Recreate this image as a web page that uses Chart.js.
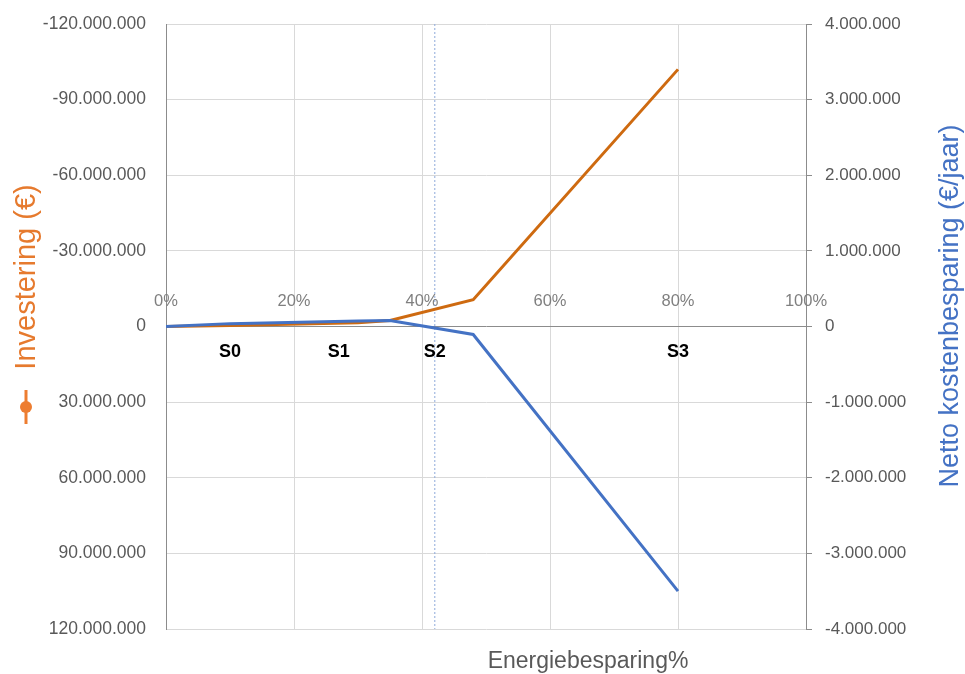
<!DOCTYPE html>
<html>
<head>
<meta charset="utf-8">
<script src="https://cdn.jsdelivr.net/npm/chart.js@4/dist/chart.umd.min.js"></script>
<style>
  html, body { margin: 0; padding: 0; background: #ffffff; }
  #wrap { width: 965px; height: 674px; position: relative; }
</style>
</head>
<body>
<div id="wrap"><canvas id="chart"></canvas></div>
<script>
// Energy saving percentage for each calculated point
const energiePct = [0, 10, 30, 35, 48, 80];
// Investment (€), plotted on the reversed left axis
const investering = [0, -400000, -1500000, -2400000, -10600000, -102000000];
// Net cost saving per year (€/jaar), right axis
const nettoBesparing = [0, 38000, 73000, 80000, -105000, -3500000];

// Scenario labels and their energy-saving position
const scenarioNames = ['S0', 'S1', 'S2', 'S3'];
const scenarioPct = [10, 27, 42, 80];
// Reference marker line at scenario S2
const markerPct = 42;

// Axis ranges
const invRange = [-120000000, 120000000];
const besRange = [-4000000, 4000000];
const pctRange = [0, 100];

const FONT = '"Liberation Sans", Arial, sans-serif';
const ORANGE_LINE = '#CE6A10';
const ORANGE_TEXT = '#E67A2E';
const BLUE = '#4472C4';
const AXIS_GREY = '#8c8c8c';
const GRID = '#d9d9d9';
const LABEL = '#595959';

function nlNumber(v) {
  const s = Math.round(Math.abs(v)).toString().replace(/\B(?=(\d{3})+(?!\d))/g, '.');
  return (v < 0 ? '-' : '') + s;
}

const toPoints = (xs, ys) => xs.map((x, i) => ({ x: x, y: ys[i] }));

const annotations = {
  id: 'annotations',
  beforeDatasetsDraw(chart) {
    const ctx = chart.ctx;
    const xs = chart.scales.x;
    const yl = chart.scales.y;
    const zeroY = yl.getPixelForValue(0);
    ctx.save();
    // percentage labels sitting just above the zero line
    ctx.font = '16.5px ' + FONT;
    ctx.fillStyle = '#7f7f7f';
    ctx.textAlign = 'center';
    ctx.textBaseline = 'middle';
    xs.ticks.forEach(t => {
      ctx.fillText(t.value + '%', xs.getPixelForValue(t.value), zeroY - 25);
    });
    ctx.restore();
  },
  afterDraw(chart) {
    const ctx = chart.ctx;
    const xs = chart.scales.x;
    const yl = chart.scales.y;
    ctx.save();
    // scenario names below the zero line
    ctx.font = 'bold 18px ' + FONT;
    ctx.fillStyle = '#000000';
    ctx.textAlign = 'center';
    ctx.textBaseline = 'middle';
    scenarioNames.forEach((name, i) => {
      ctx.fillText(name, xs.getPixelForValue(scenarioPct[i]), yl.getPixelForValue(10000000));
    });

    // x axis title
    ctx.font = '23px ' + FONT;
    ctx.fillStyle = LABEL;
    ctx.fillText('Energiebesparing%', 588, 662);

    // left axis title with series key
    ctx.save();
    ctx.translate(27, 277);
    ctx.rotate(-Math.PI / 2);
    ctx.font = '29px ' + FONT;
    ctx.fillStyle = ORANGE_TEXT;
    ctx.fillText('Investering (€)', 0, 0);
    ctx.restore();
    ctx.strokeStyle = '#ED7D31';
    ctx.lineWidth = 3;
    ctx.beginPath();
    ctx.moveTo(26, 390);
    ctx.lineTo(26, 424);
    ctx.stroke();
    ctx.fillStyle = '#ED7D31';
    ctx.beginPath();
    ctx.arc(26, 407, 6, 0, Math.PI * 2);
    ctx.fill();

    // right axis title
    ctx.save();
    ctx.translate(951, 306);
    ctx.rotate(-Math.PI / 2);
    ctx.font = '27px ' + FONT;
    ctx.fillStyle = BLUE;
    ctx.textAlign = 'center';
    ctx.textBaseline = 'middle';
    ctx.fillText('Netto kostenbesparing (€/jaar)', 0, 0);
    ctx.restore();
    ctx.restore();
  }
};

new Chart(document.getElementById('chart'), {
  type: 'scatter',
  data: {
    datasets: [
      {
        label: 'Netto kostenbesparing (€/jaar)',
        data: toPoints(energiePct, nettoBesparing),
        yAxisID: 'y2',
        showLine: true,
        borderColor: BLUE,
        backgroundColor: BLUE,
        borderWidth: 3,
        pointRadius: 0,
        tension: 0,
        order: 0
      },
      {
        label: 'Investering (€)',
        data: toPoints(energiePct, investering),
        yAxisID: 'y',
        showLine: true,
        borderColor: ORANGE_LINE,
        backgroundColor: ORANGE_LINE,
        borderWidth: 3,
        pointRadius: 0,
        tension: 0,
        order: 1
      },
      {
        label: 'S2',
        data: [{ x: markerPct, y: invRange[0] }, { x: markerPct, y: invRange[1] }],
        yAxisID: 'y',
        showLine: true,
        borderColor: '#8eaadb',
        borderWidth: 1,
        borderDash: [2, 2],
        pointRadius: 0,
        order: 2
      }
    ]
  },
  options: {
    responsive: true,
    maintainAspectRatio: false,
    animation: false,
    layout: { padding: { top: 24, left: 0, right: 0, bottom: 0 } },
    plugins: {
      legend: { display: false },
      tooltip: { enabled: false }
    },
    scales: {
      x: {
        type: 'linear',
        position: 'bottom',
        min: pctRange[0],
        max: pctRange[1],
        ticks: { stepSize: 20, display: false },
        grid: { color: GRID, lineWidth: 1, drawTicks: false },
        border: { display: false },
        afterFit(scale) { scale.height = 45; }
      },
      y: {
        type: 'linear',
        position: 'left',
        reverse: true,
        min: invRange[0],
        max: invRange[1],
        ticks: {
          stepSize: 30000000,
          padding: 6,
          color: LABEL,
          font: { family: FONT, size: 17.5 },
          callback: v => nlNumber(v)
        },
        grid: {
          drawTicks: true,
          tickLength: 14,
          tickColor: 'rgba(0,0,0,0)',
          lineWidth: 1,
          color: c => (c.tick && c.tick.value === 0) ? AXIS_GREY : GRID
        },
        border: { display: true, color: AXIS_GREY, width: 1 },
        afterFit(scale) { scale.width = 166; }
      },
      y2: {
        type: 'linear',
        position: 'right',
        min: besRange[0],
        max: besRange[1],
        ticks: {
          stepSize: 1000000,
          padding: 13,
          color: LABEL,
          font: { family: FONT, size: 17 },
          callback: v => nlNumber(v)
        },
        grid: {
          drawOnChartArea: false,
          drawTicks: true,
          tickLength: 6,
          color: AXIS_GREY
        },
        border: { display: true, color: AXIS_GREY, width: 1 },
        afterFit(scale) { scale.width = 159; }
      }
    }
  },
  plugins: [annotations]
});
</script>
</body>
</html>
